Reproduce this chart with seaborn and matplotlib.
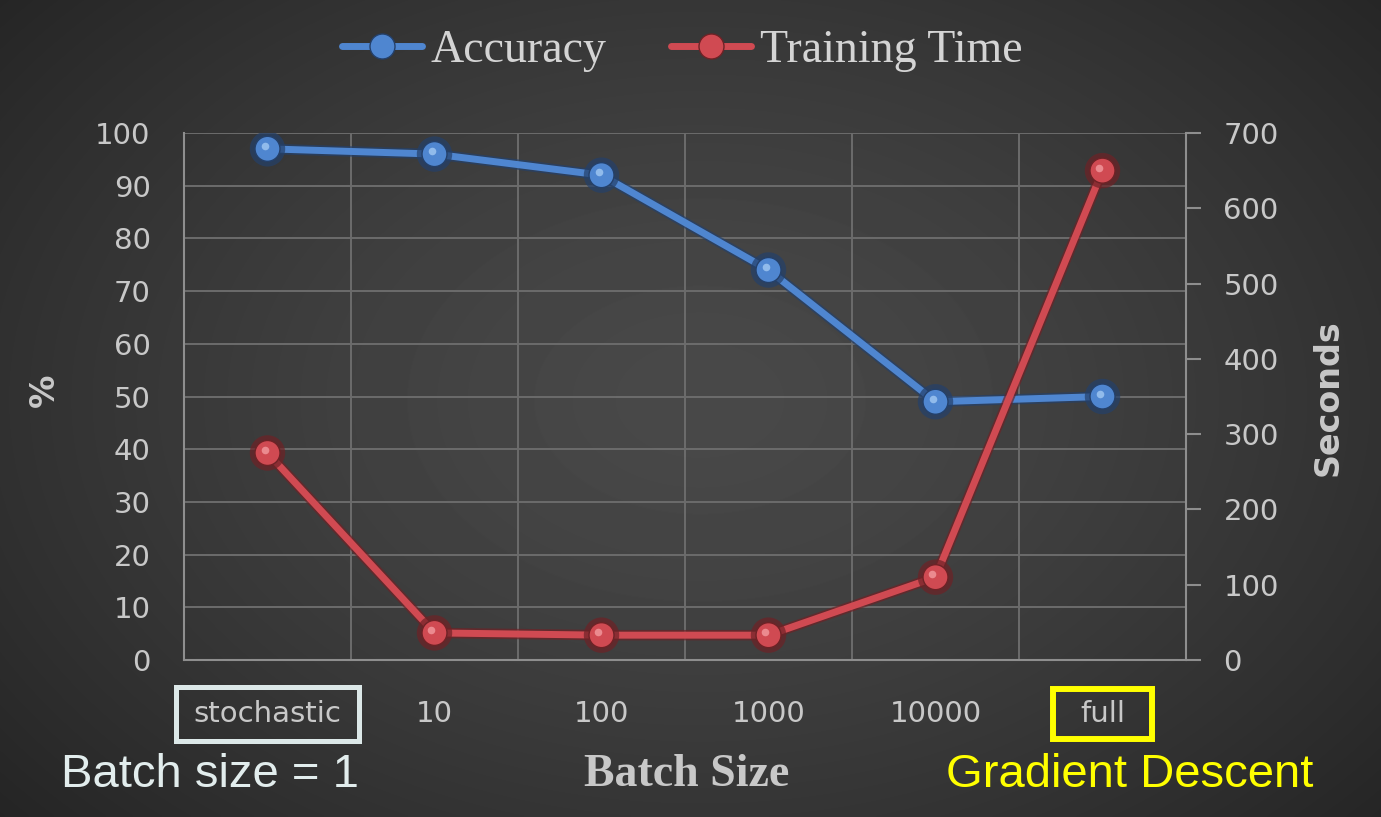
import numpy as np
import matplotlib
matplotlib.use("Agg")
import matplotlib.pyplot as plt
import matplotlib.patheffects as pe
from matplotlib import transforms
from matplotlib.lines import Line2D
from matplotlib.patches import Rectangle
import seaborn as sns

# ---- data -------------------------------------------------------------
batch_sizes = ["stochastic", "10", "100", "1000", "10000", "full"]
accuracy = [97, 96, 92, 74, 49, 50]            # %
training_time = [275, 36, 33, 33, 110, 650]    # seconds
acc_ticks = list(range(0, 101, 10))
time_ticks = list(range(0, 701, 100))

# ---- style ------------------------------------------------------------
sns.set_theme(style="dark")
plt.rcParams["font.family"] = ["DejaVu Sans"]

BLUE, BLUE_DARK, BLUE_LIGHT = "#4f86d0", "#24406a", "#a8cdf5"
RED, RED_DARK, RED_LIGHT = "#d04a52", "#6e2226", "#f5a0a4"
TXT = "#c8c8c8"
GRID = "#6c6c6c"
AXIS = "#8e8e8e"

W, H, DPI = 1381, 817, 100
fig = plt.figure(figsize=(W / DPI, H / DPI), dpi=DPI)

# dark radial background
bg = fig.add_axes([0, 0, 1, 1], zorder=-10)
yy, xx = np.mgrid[0:H, 0:W]
r = np.sqrt(((xx - 700) / 900) ** 2 + ((yy - 400) / 620) ** 2)
shade = 0x49 - (0x49 - 0x26) * np.clip(r, 0, 1.1) ** 1.4
bg.imshow(shade, cmap="gray", vmin=0, vmax=255, extent=[0, 1, 0, 1],
          aspect="auto", interpolation="bilinear")
bg.axis("off")

ax = fig.add_axes([184 / W, 1 - 660 / H, (1186 - 184) / W, (660 - 133) / H])
ax.set_facecolor("none")
ax2 = ax.twinx()

common = dict(order=batch_sizes, markers="o", linestyles="-", errorbar=None,
              markersize=18, linewidth=5)
sns.pointplot(x=batch_sizes, y=accuracy, ax=ax, color=BLUE,
              markeredgecolor=BLUE_DARK, markeredgewidth=1, **common)
sns.pointplot(x=batch_sizes, y=training_time, ax=ax2, color=RED,
              markeredgecolor=RED_DARK, markeredgewidth=1, **common)

for a, dark in ((ax, BLUE_DARK), (ax2, RED_DARK)):
    for ln in a.lines:
        ln.set_path_effects([pe.Stroke(linewidth=7.5, foreground=dark, alpha=0.7),
                             pe.Normal()])
        ln.set_zorder(4)

# small specular highlight on each sphere marker
pos = np.arange(len(batch_sizes))
for a, vals, light in ((ax, accuracy, BLUE_LIGHT), (ax2, training_time, RED_LIGHT)):
    tr = transforms.offset_copy(a.transData, fig=fig, x=-3, y=3, units="dots")
    a.scatter(pos, vals, s=30, color=light, alpha=0.75, lw=0, transform=tr, zorder=6)

# axes limits, ticks and grid
ax.set_xlim(-0.5, len(batch_sizes) - 0.5)
ax.set_ylim(0, 100)
ax2.set_ylim(0, 700)
ax.set_yticks(acc_ticks)
ax2.set_yticks(time_ticks)
ax.set_xticks(pos)
ax.set_xticklabels(batch_sizes)
ax.set_xticks(np.arange(-0.5, len(batch_sizes), 1), minor=True)

ax.grid(False)
ax2.grid(False)
ax.grid(True, axis="y", which="major", color=GRID, lw=1.4)
ax.grid(True, axis="x", which="minor", color=GRID, lw=1.4)

ax.tick_params(axis="y", length=0, pad=24, labelsize=21, labelcolor=TXT)
ax.tick_params(axis="x", which="both", length=0, pad=29, labelsize=21, labelcolor=TXT)
ax2.tick_params(axis="y", length=11, width=1.5, color=AXIS, direction="out",
                pad=16, labelsize=21, labelcolor=TXT, right=True)

for side in ("top", "right"):
    ax.spines[side].set_visible(False)
for side in ("left", "bottom"):
    ax.spines[side].set_color(AXIS)
    ax.spines[side].set_linewidth(1.5)
for side in ("top", "left", "bottom"):
    ax2.spines[side].set_visible(False)
ax2.spines["right"].set_color(AXIS)
ax2.spines["right"].set_linewidth(1.5)

# axis titles
ax.set_ylabel("%", fontsize=24, fontweight="bold", color=TXT, rotation=90,
              va="center", ha="center")
ax.yaxis.set_label_coords(-0.139, 0.512)
ax2.set_ylabel("Seconds", fontsize=24, fontweight="bold", color=TXT, rotation=90,
               va="center", ha="center")
ax2.yaxis.set_label_coords(1.142, 0.497)
ax.set_xlabel("Batch Size", fontsize=33, fontweight="bold", color=TXT,
              family=["Liberation Serif", "DejaVu Serif"], va="center")
ax.xaxis.set_label_coords(0.502, -0.218)

# legend
handles = [
    Line2D([], [], color=BLUE, marker="o", markersize=18, lw=5,
           markeredgecolor=BLUE_DARK, label="Accuracy"),
    Line2D([], [], color=RED, marker="o", markersize=18, lw=5,
           markeredgecolor=RED_DARK, label="Training Time"),
]
fig.legend(handles=handles, loc="center", bbox_to_anchor=(0.494, 0.938), ncol=2,
           frameon=False, handlelength=1.75, handletextpad=0.2, columnspacing=1.4,
           prop=dict(family=["Liberation Serif", "DejaVu Serif"], size=33),
           labelcolor="#d4d4d4")

# side notes under the axis
fig.text(210 / W, 1 - 775 / H, "Batch size = 1", fontsize=34, color="#e2eded",
         family=["Liberation Sans", "DejaVu Sans"], ha="center", va="center")
fig.text(1130 / W, 1 - 775 / H, "Gradient Descent", fontsize=34, color="#ffff00",
         family=["Liberation Sans", "DejaVu Sans"], ha="center", va="center")

# frames around the two extreme batch-size labels
fig.canvas.draw()
frames = {"stochastic": ("#dce8e8", 18, 13, 3.6), "full": ("#ffff00", 27, 11, 4.3)}
for lbl in ax.get_xticklabels():
    key = lbl.get_text()
    if key in frames:
        ec, px, py, lw = frames[key]
        bb = lbl.get_window_extent()
        fig.add_artist(Rectangle((bb.x0 - px, bb.y0 - py), bb.width + 2 * px,
                                 bb.height + 2 * py, fill=False, ec=ec, lw=lw,
                                 transform=None))

fig.savefig("out.png", dpi=DPI)
